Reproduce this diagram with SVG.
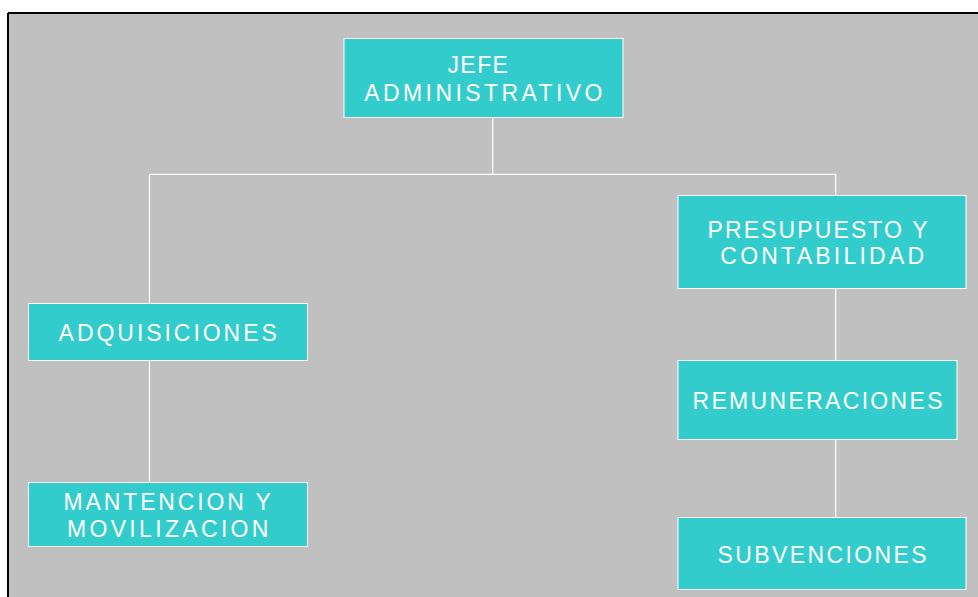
<svg xmlns="http://www.w3.org/2000/svg" width="978" height="597" viewBox="0 0 978 597">
<style>
.box{fill:#33CCCC;stroke:#FFFFFF;stroke-width:1}
.lbl{font-family:"Liberation Sans",Arial,sans-serif;font-size:23px;fill:#FFFFFF;text-anchor:middle}
.ln{stroke:#FFFFFF;stroke-width:1.2;fill:none}
</style>
<rect x="0" y="0" width="978" height="597" fill="#FFFFFF"/>
<rect x="8" y="13" width="970" height="584" fill="#C0C0C0"/>
<path d="M8 13 H978 M8 13 V597" stroke="#000000" stroke-width="2" fill="none"/>
<g id="connectors">
<path class="ln" d="M492.7 117.5 V174.3"/>
<path class="ln" d="M149.5 174.3 H835.7"/>
<path class="ln" d="M149.5 174.3 V303.5"/>
<path class="ln" d="M835.7 174.3 V195.5"/>
<path class="ln" d="M149.5 360.5 V482.5"/>
<path class="ln" d="M835.7 288.5 V360.5"/>
<path class="ln" d="M835.7 439.5 V517.5"/>
</g>
<g id="jefe">
<rect class="box" x="344" y="38.5" width="279" height="79"/>
<text class="lbl" x="477.7" y="73.3" textLength="60.5" lengthAdjust="spacing">JEFE</text>
<text class="lbl" x="483.3" y="101" textLength="238" lengthAdjust="spacing">ADMINISTRATIVO</text>
</g>
<g id="presupuesto">
<rect class="box" x="678" y="195.5" width="288" height="93"/>
<text class="lbl" x="817.5" y="238.3" textLength="220" lengthAdjust="spacing">PRESUPUESTO Y</text>
<text class="lbl" x="822.2" y="264.3" textLength="203.8" lengthAdjust="spacing">CONTABILIDAD</text>
</g>
<g id="adquisiciones">
<rect class="box" x="28.5" y="303.5" width="279" height="57"/>
<text class="lbl" x="167.7" y="340.7" textLength="218.2" lengthAdjust="spacing">ADQUISICIONES</text>
</g>
<g id="mantencion">
<rect class="box" x="28.5" y="482.5" width="279" height="64"/>
<text class="lbl" x="167.2" y="510" textLength="207.2" lengthAdjust="spacing">MANTENCION Y</text>
<text class="lbl" x="167.7" y="536.7" textLength="201.5" lengthAdjust="spacing">MOVILIZACION</text>
</g>
<g id="remuneraciones">
<rect class="box" x="678" y="360.5" width="279" height="79"/>
<text class="lbl" x="817.5" y="409.3" textLength="250" lengthAdjust="spacing">REMUNERACIONES</text>
</g>
<g id="subvenciones">
<rect class="box" x="678" y="517.5" width="288" height="72"/>
<text class="lbl" x="822" y="562.7" textLength="209" lengthAdjust="spacing">SUBVENCIONES</text>
</g>
</svg>
